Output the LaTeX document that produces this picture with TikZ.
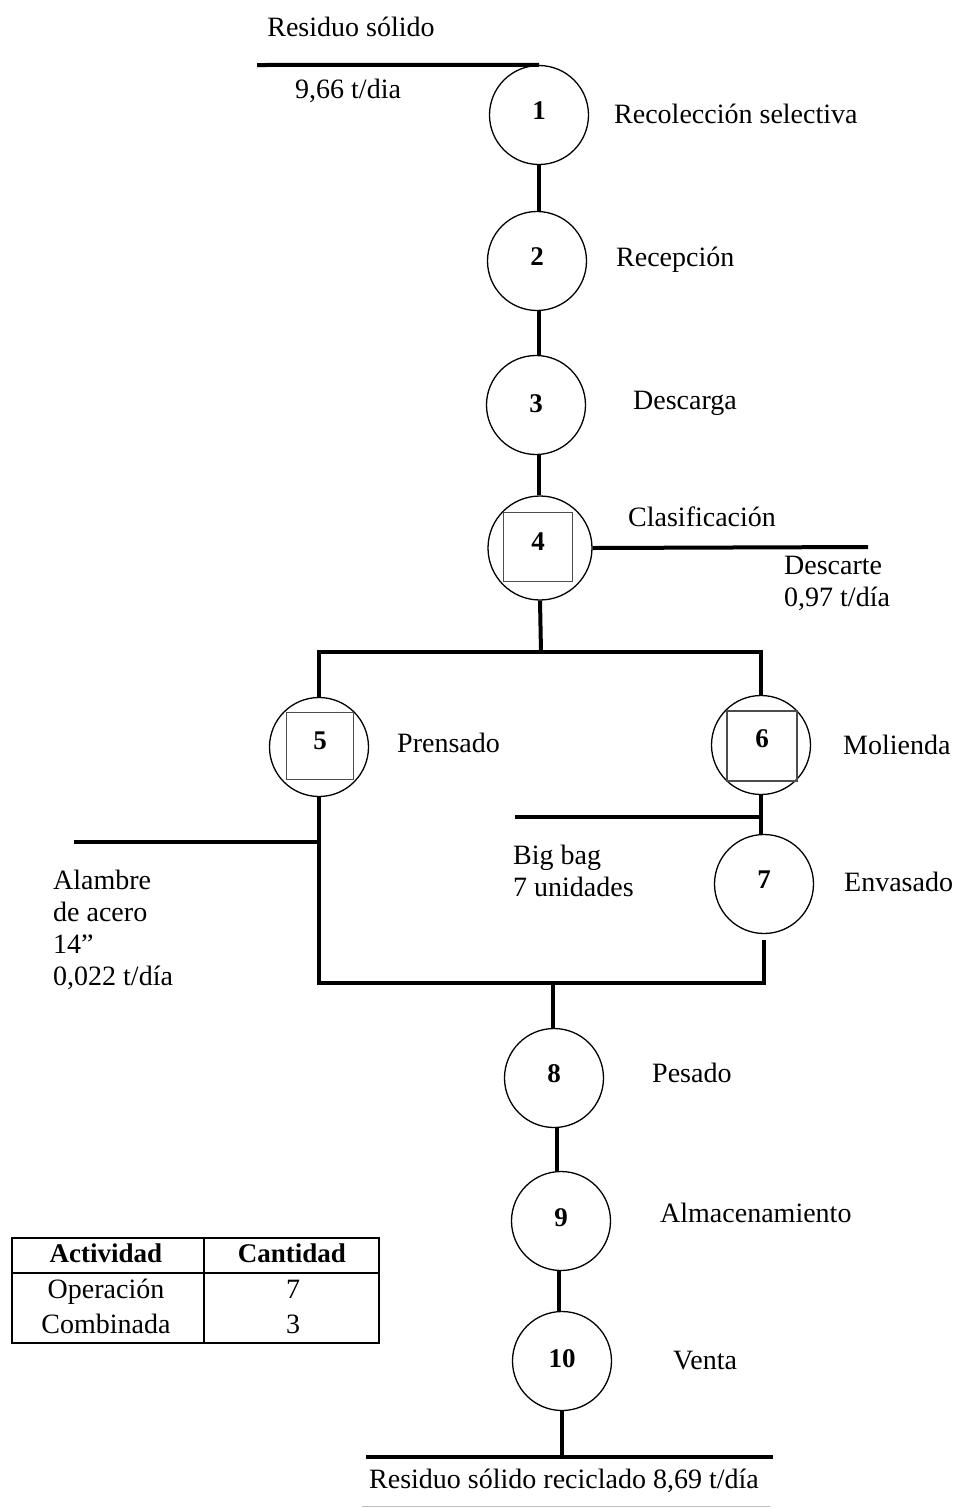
\documentclass[tikz,border=0pt]{standalone}
\usepackage{fontspec}
\setmainfont{Liberation Serif}
\begin{document}
\begin{tikzpicture}[x=1pt,y=-1pt,
  flow/.style={line width=4pt},
  proc/.style={circle,draw,line width=1.3pt,minimum size=99pt,inner sep=0pt,font=\fontsize{27}{29}\selectfont\bfseries},
  sqbox/.style={rectangle,draw=black!70,line width=1.6pt,minimum size=69pt,inner sep=0pt},
  lbl/.style={anchor=west,font=\fontsize{28}{32}\selectfont,inner sep=0pt,align=left},
  ctxt/.style={font=\fontsize{28}{32}\selectfont,inner sep=0pt},
  tb/.style={font=\fontsize{28}{32}\selectfont,inner sep=0pt,text height=19pt,text depth=6pt},
  tbh/.style={font=\fontsize{27}{32}\selectfont\bfseries,inner sep=0pt,text height=19pt,text depth=6pt},
  tline/.style={line width=1.8pt}]
\fill[white] (0,0) rectangle (957,1508);
\useasboundingbox (0,0) rectangle (957,1508);

% process circles
\node[proc] (c1) at (539,115) {\raisebox{8pt}{1}};
\node[proc] (c2) at (537,261) {\raisebox{8pt}{2}};
\node[proc] (c3) at (536,405) {\raisebox{3pt}{3}};
\node[proc,minimum size=104pt] (c4) at (540,548) {};
\node[sqbox] (s4) at (538,547) {\raisebox{10pt}{\fontsize{27}{29}\selectfont\bfseries 4}};
\node[proc] (c5) at (319,747) {};
\node[sqbox,minimum size=67pt] (s5) at (320,746) {\raisebox{10pt}{\fontsize{27}{29}\selectfont\bfseries 5}};
\node[proc] (c6) at (761,745) {};
\node[sqbox,minimum size=70pt] (s6) at (762,746) {\raisebox{14pt}{\fontsize{27}{29}\selectfont\bfseries 6}};
\node[proc] (c7) at (764,884) {\raisebox{8pt}{7}};
\node[proc] (c8) at (554,1078) {\raisebox{8pt}{8}};
\node[proc] (c9) at (561,1221) {\raisebox{6pt}{9}};
\node[proc] (c10) at (562,1361) {\raisebox{4pt}{10}};

% labels
\node[ctxt] (tin) at (351,27) {Residuo sólido};
\node[lbl] (tin2) at (295,91) {9,66 t/dia};
\node[lbl] (l1) at (614,114) {Recolección selectiva};
\node[lbl] (l2) at (616,260) {Recepción};
\node[lbl] (l3) at (633,403) {Descarga};
\node[lbl] (l4) at (628,517) {Clasificación};
\node[lbl,align=left] (ld) at (784,583) {Descarte\\0,97 t/día};
\node[lbl] (l5) at (397,743) {Prensado};
\node[lbl] (l6) at (843,745) {Molienda};
\node[lbl] (la) at (53,930) {Alambre\\de acero\\14”\\0,022 t/día};
\node[lbl] (lb) at (513,871) {Big bag\\7 unidades};
\node[lbl] (l7) at (844,882) {Envasado};
\node[lbl] (l8) at (652,1073) {Pesado};
\node[lbl] (l9) at (660,1213) {Almacenamiento};
\node[lbl] (l10) at (673,1361) {Venta};
\node[ctxt] (tout) at (564,1481) {Residuo sólido reciclado 8,69 t/día};

% connectors
\coordinate (in) at (257,65);
\draw[flow] (in) -- (c1.north);
\draw[flow] (c1.south) -- (c1.south |- c2.north);
\draw[flow] (c1.south |- c2.south) -- (c1.south |- c3.north);
\draw[flow] (c1.south |- c3.south) -- (c1.south |- c4.north);
\coordinate (d4) at (868,547);
\draw[flow] (c4.east) -- (d4);
\coordinate (jt) at (541,652);
\draw[flow] (c4.south) -- (jt);
\draw[flow] (c5.north) -- (c5.north |- jt) -- (c6.north |- jt) -- (c6.north);
\coordinate (jb) at (553,983);
\draw[flow] (c5.south) -- (c5.south |- jb) -- (c7.south |- jb) -- ([yshift=-6pt]c7.south);
\coordinate (a1) at (74,842);
\draw[flow] (a1) -- (c5.south |- a1);
\draw[flow] (c6.south) -- (c6.south |- c7.north);
\coordinate (b1) at (515,817);
\draw[flow] (b1) -- (c6.south |- b1);
\draw[flow] (jb) -- (jb |- c8.north);
\coordinate (m89) at (557,1150);
\draw[flow] (m89 |- c8.south) -- (m89 |- c9.north);
\coordinate (m910) at (559,1290);
\draw[flow] (m910 |- c9.south) -- (m910 |- c10.north);
\coordinate (ob) at (562,1457);
\draw[flow] (c10.south) -- (ob);
\coordinate (o1) at (366,1457);
\coordinate (o2) at (773,1457);
\draw[flow] (o1) -- (o2);
\draw[black!25,line width=1pt] (362,1506) -- (770,1506);

% table
\draw[tline] (12,1238) rectangle (379,1343);
\draw[tline] (12,1273) -- (379,1273);
\draw[tline] (204,1238) -- (204,1343);
\node[tbh] (th1) at (106,1256) {Actividad};
\node[tbh] (th2) at (292,1256) {Cantidad};
\node[tb] (t11) at (106,1292) {Operación};
\node[tb] (t12) at (293,1292) {7};
\node[tb] (t21) at (106,1327) {Combinada};
\node[tb] (t22) at (293,1327) {3};
\end{tikzpicture}
\end{document}
